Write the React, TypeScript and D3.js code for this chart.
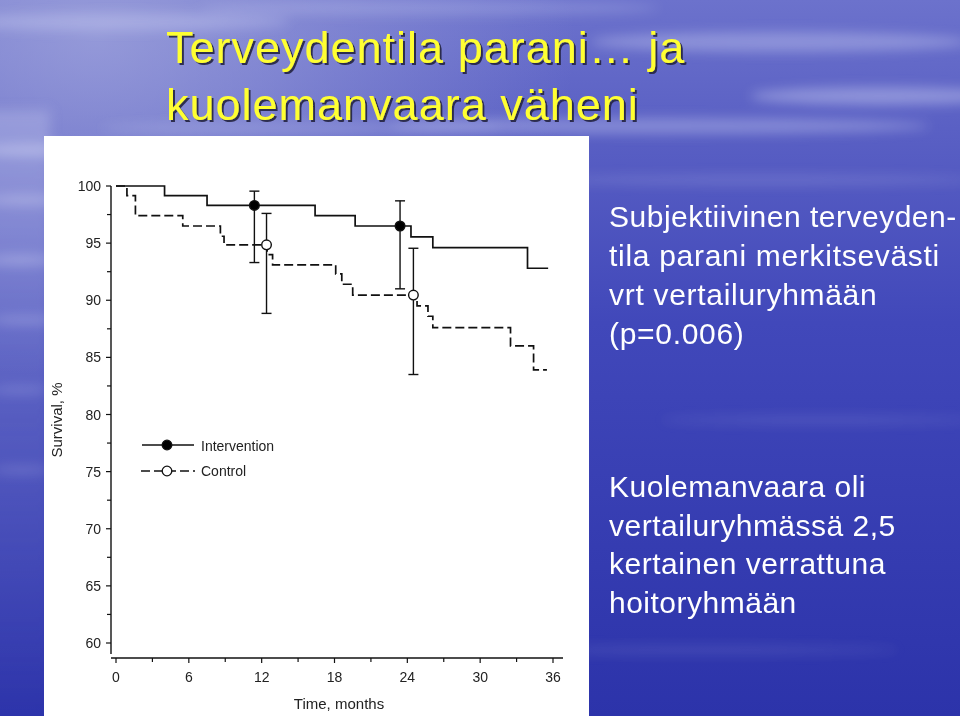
import React from "react";
import * as d3 from "d3";

// Kaplan-Meier steps (months, survival %)
const interventionTimes = [0, 4.0, 7.5, 16.4, 19.7, 24.3, 26.1, 33.9, 35.6];
const interventionSurv = [100, 99.15, 98.3, 97.4, 96.5, 95.55, 94.6, 92.8, 92.8];

const controlTimes = [0, 0.9, 1.6, 5.5, 8.6, 8.9, 12.45, 12.9, 18.1, 18.6, 19.5, 24.8, 25.7, 26.1, 32.5, 34.4, 35.5];
const controlSurv = [100, 99.15, 97.4, 96.5, 95.6, 94.85, 94.0, 93.1, 92.3, 91.4, 90.45, 89.5, 88.6, 87.6, 86.0, 83.9, 83.9];

// markers with confidence intervals
const interventionMarks = [
  { t: 11.4, v: 98.3, lo: 93.3, hi: 99.55 },
  { t: 23.4, v: 96.5, lo: 91.0, hi: 98.7 },
];
const controlMarks = [
  { t: 12.4, v: 94.85, lo: 88.85, hi: 97.6 },
  { t: 24.5, v: 90.45, lo: 83.5, hi: 94.55 },
];

const yMajor = [100, 95, 90, 85, 80, 75, 70, 65, 60];
const yMinor = [97.5, 92.5, 87.5, 82.5, 77.5, 72.5, 67.5, 62.5];
const xMajor = [0, 6, 12, 18, 24, 30, 36];
const xMinor = [3, 9, 15, 21, 27, 33];

const titleLines = ["Terveydentila parani\u2026 ja", "kuolemanvaara väheni"];
const textTop = ["Subjektiivinen terveyden-", "tila parani merkitsevästi", "vrt vertailuryhmään", "(p=0.006)"];
const textBottom = ["Kuolemanvaara oli", "vertailuryhmässä 2,5", "kertainen verrattuna", "hoitoryhmään"];

const W = 960;
const H = 716;

const x = d3.scaleLinear().domain([0, 36]).range([116, 553]);
const y = d3.scaleLinear().domain([60, 100]).range([643, 186]);

const stepLine = d3
  .line<[number, number]>()
  .x(d => x(d[0]))
  .y(d => y(d[1]))
  .curve(d3.curveStepAfter);

const zip = (ts: number[], vs: number[]) => ts.map((t, i) => [t, vs[i]] as [number, number]);

const font = "'Liberation Sans', Arial, sans-serif";

function Marks({ marks, filled }: { marks: typeof interventionMarks; filled: boolean }) {
  return (
    <g>
      {marks.map((m, i) => (
        <g key={i} stroke="#111" strokeWidth={1.4}>
          <line x1={x(m.t)} x2={x(m.t)} y1={y(m.hi)} y2={y(m.lo)} />
          <line x1={x(m.t) - 5} x2={x(m.t) + 5} y1={y(m.hi)} y2={y(m.hi)} />
          <line x1={x(m.t) - 5} x2={x(m.t) + 5} y1={y(m.lo)} y2={y(m.lo)} />
          <circle cx={x(m.t)} cy={y(m.v)} r={4.8} fill={filled ? "#000" : "#fff"} />
        </g>
      ))}
    </g>
  );
}

export default function App() {
  // soft cloud / wave streaks: cx, cy, rx, ry, opacity
  const streaks = [
    [120, 22, 170, 9, 0.25], [430, 8, 230, 7, 0.2], [780, 42, 190, 10, 0.3], [880, 96, 130, 9, 0.35],
    [660, 126, 270, 8, 0.3], [300, 128, 200, 6, 0.2], [30, 150, 50, 6, 0.35], [25, 200, 40, 5, 0.3],
    [20, 260, 35, 5, 0.3], [25, 320, 35, 4, 0.25], [20, 390, 30, 4, 0.2], [22, 470, 30, 4, 0.18],
    [760, 180, 220, 5, 0.15], [820, 420, 160, 4, 0.12], [700, 650, 200, 4, 0.12],
  ];
  return (
    <svg width={W} height={H} style={{ position: "absolute", left: 0, top: 0, display: "block" }}>
      <defs>
        <linearGradient id="bg" x1="0" y1="0" x2="0" y2="1">
          <stop offset="0" stopColor="#6c72cc" />
          <stop offset="0.18" stopColor="#5a60c4" />
          <stop offset="0.45" stopColor="#4148ba" />
          <stop offset="1" stopColor="#2c33aa" />
        </linearGradient>
        <linearGradient id="leftStrip" x1="0" y1="0" x2="0" y2="1">
          <stop offset="0" stopColor="#b4b8e6" stopOpacity="0.45" />
          <stop offset="0.45" stopColor="#9ca0dc" stopOpacity="0.3" />
          <stop offset="1" stopColor="#9ca0dc" stopOpacity="0" />
        </linearGradient>
        <radialGradient id="glow" cx="0.1" cy="0.05" r="0.5">
          <stop offset="0" stopColor="#a8acdf" stopOpacity="0.7" />
          <stop offset="1" stopColor="#a8acdf" stopOpacity="0" />
        </radialGradient>
        <filter id="blur" x="-50%" y="-50%" width="200%" height="200%">
          <feGaussianBlur stdDeviation="6" />
        </filter>
        <filter id="shadow" x="-10%" y="-10%" width="120%" height="130%">
          <feDropShadow dx="2" dy="2" stdDeviation="0.6" floodColor="#202040" floodOpacity="0.9" />
        </filter>
      </defs>
      <rect width={W} height={H} fill="url(#bg)" />
      <rect width={W} height={H} fill="url(#glow)" />
      <g filter="url(#blur)">
        <rect x={-20} y={110} width={70} height={H - 100} fill="url(#leftStrip)" />
        {streaks.map(([cx, cy, rx, ry, o], i) => (
          <ellipse key={i} cx={cx} cy={cy} rx={rx} ry={ry} fill="#e8eaff" opacity={o} />
        ))}
      </g>

      <g fontFamily={font} fontSize={45} fill="#ffff33" filter="url(#shadow)" letterSpacing={1}>
        {titleLines.map((t, i) => (
          <text key={i} x={166} y={63 + i * 57}>{t}</text>
        ))}
      </g>

      <g fontFamily={font} fontSize={30} fill="#fff">
        {textTop.map((t, i) => (
          <text key={i} x={609} y={227 + i * 39} letterSpacing={i === 0 ? 0.5 : 0.7}>{t}</text>
        ))}
        {textBottom.map((t, i) => (
          <text key={i} x={609} y={497 + i * 38.7} letterSpacing={0.5}>{t}</text>
        ))}
      </g>

      {/* chart panel */}
      <rect x={44} y={136} width={545} height={H - 136} fill="#fff" />

      <g fontFamily={font} fontSize={14} fill="#222">
        {/* y axis */}
        <line x1={111} x2={111} y1={y(100)} y2={654} stroke="#111" strokeWidth={1.4} />
        {yMajor.map(v => (
          <g key={v}>
            <line x1={106} x2={111} y1={y(v)} y2={y(v)} stroke="#111" strokeWidth={1.2} />
            <text x={101} y={y(v)} textAnchor="end" dominantBaseline="central">{v}</text>
          </g>
        ))}
        {yMinor.map(v => (
          <line key={v} x1={107} x2={111} y1={y(v)} y2={y(v)} stroke="#111" strokeWidth={1.2} />
        ))}
        <text transform={`translate(62,420) rotate(-90)`} textAnchor="middle" fontSize={15}>Survival, %</text>

        {/* x axis */}
        <line x1={111} x2={563} y1={658} y2={658} stroke="#111" strokeWidth={1.4} />
        {xMajor.map(v => (
          <g key={v}>
            <line x1={x(v)} x2={x(v)} y1={658} y2={663} stroke="#111" strokeWidth={1.2} />
            <text x={x(v)} y={682} textAnchor="middle">{v}</text>
          </g>
        ))}
        {xMinor.map(v => (
          <line key={v} x1={x(v)} x2={x(v)} y1={658} y2={662} stroke="#111" strokeWidth={1.2} />
        ))}
        <text x={339} y={709} textAnchor="middle" fontSize={15}>Time, months</text>
      </g>

      {/* survival curves */}
      <path d={stepLine(zip(controlTimes, controlSurv)) || ""} fill="none" stroke="#111" strokeWidth={1.7} strokeDasharray="9,4" />
      <path d={stepLine(zip(interventionTimes, interventionSurv)) || ""} fill="none" stroke="#111" strokeWidth={1.7} />
      <Marks marks={controlMarks} filled={false} />
      <Marks marks={interventionMarks} filled={true} />

      {/* legend */}
      <g fontFamily={font} fontSize={14} fill="#222">
        <line x1={142} x2={194} y1={445} y2={445} stroke="#111" strokeWidth={1.7} />
        <circle cx={167} cy={445} r={4.8} fill="#000" stroke="#111" strokeWidth={1.3} />
        <text x={201} y={451}>Intervention</text>
        <line x1={141} x2={195} y1={471} y2={471} stroke="#111" strokeWidth={1.7} strokeDasharray="9,4" />
        <circle cx={167} cy={471} r={4.8} fill="#fff" stroke="#111" strokeWidth={1.3} />
        <text x={201} y={476}>Control</text>
      </g>
    </svg>
  );
}
